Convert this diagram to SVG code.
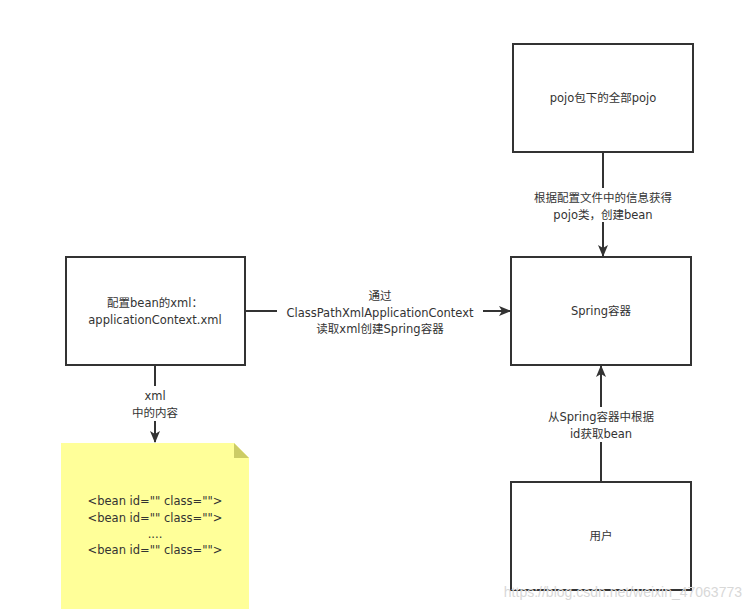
<svg xmlns="http://www.w3.org/2000/svg" width="750" height="610" viewBox="0 0 750 610">
<defs>
<style>
.box{fill:#fff;stroke:#333;stroke-width:2}
.t{font-family:"DejaVu Sans","Noto Sans CJK SC",sans-serif;font-size:11.5px;fill:#333;text-anchor:middle}
.edge{stroke:#333;stroke-width:2;fill:none}
.lbl{fill:#fff}
</style>
<marker id="a" viewBox="0 0 12 12" refX="11" refY="6" markerWidth="12" markerHeight="12" markerUnits="userSpaceOnUse" orient="auto"><path d="M0,1 L12,6 L0,11 L3,6 Z" fill="#333"/></marker>
</defs>
<rect width="750" height="610" fill="#fff"/>
<g id="connectors">
<line class="edge" x1="603" y1="152" x2="603" y2="256" marker-end="url(#a)"/>
<line class="edge" x1="245" y1="311" x2="510" y2="311" marker-end="url(#a)"/>
<line class="edge" x1="155" y1="365" x2="155" y2="442" marker-end="url(#a)"/>
<line class="edge" x1="601" y1="482" x2="601" y2="366" marker-end="url(#a)"/>
<rect class="lbl" x="520" y="188" width="166" height="34"/>
<text class="t" x="603" y="202">根据配置文件中的信息获得</text>
<text class="t" x="603" y="218.5">pojo类，创建bean</text>
<rect class="lbl" x="277" y="287" width="206" height="50"/>
<text class="t" x="380" y="300">通过</text>
<text class="t" x="380" y="316.5">ClassPathXmlApplicationContext</text>
<text class="t" x="380" y="333">读取xml创建Spring容器</text>
<rect class="lbl" x="115" y="386" width="80" height="35"/>
<text class="t" x="155" y="400">xml</text>
<text class="t" x="155" y="416.5">中的内容</text>
<rect class="lbl" x="536" y="407" width="130" height="35"/>
<text class="t" x="601" y="421">从Spring容器中根据</text>
<text class="t" x="601" y="437.5">id获取bean</text>
</g>
<g id="pojo">
<rect class="box" x="513" y="44" width="180" height="108"/>
<text class="t" x="603" y="102">pojo包下的全部pojo</text>
</g>
<g id="spring">
<rect class="box" x="511" y="257" width="180" height="108"/>
<text class="t" x="601" y="315">Spring容器</text>
</g>
<g id="config">
<rect class="box" x="66" y="257" width="179" height="108"/>
<text class="t" x="155" y="307">配置bean的xml：</text>
<text class="t" x="155" y="323.5">applicationContext.xml</text>
</g>
<g id="user">
<rect class="box" x="511" y="482" width="180" height="108"/>
<text class="t" x="601" y="540">用户</text>
</g>
<g id="note">
<path d="M61,443 H234 L249,458 V609 H61 Z" fill="#ffff99"/>
<path d="M234,443 L249,458 H234 Z" fill="#cccc66"/>
<text class="t" x="155" y="505">&lt;bean id="" class=""&gt;</text>
<text class="t" x="155" y="522">&lt;bean id="" class=""&gt;</text>
<text class="t" x="155" y="538">....</text>
<text class="t" x="155" y="554">&lt;bean id="" class=""&gt;</text>
</g>
<text x="742" y="597" style="font-family:'Liberation Sans',sans-serif;font-size:14px;fill:#d8d8d8;text-anchor:end">https://blog.csdn.net/weixin_47063773</text>
</svg>
